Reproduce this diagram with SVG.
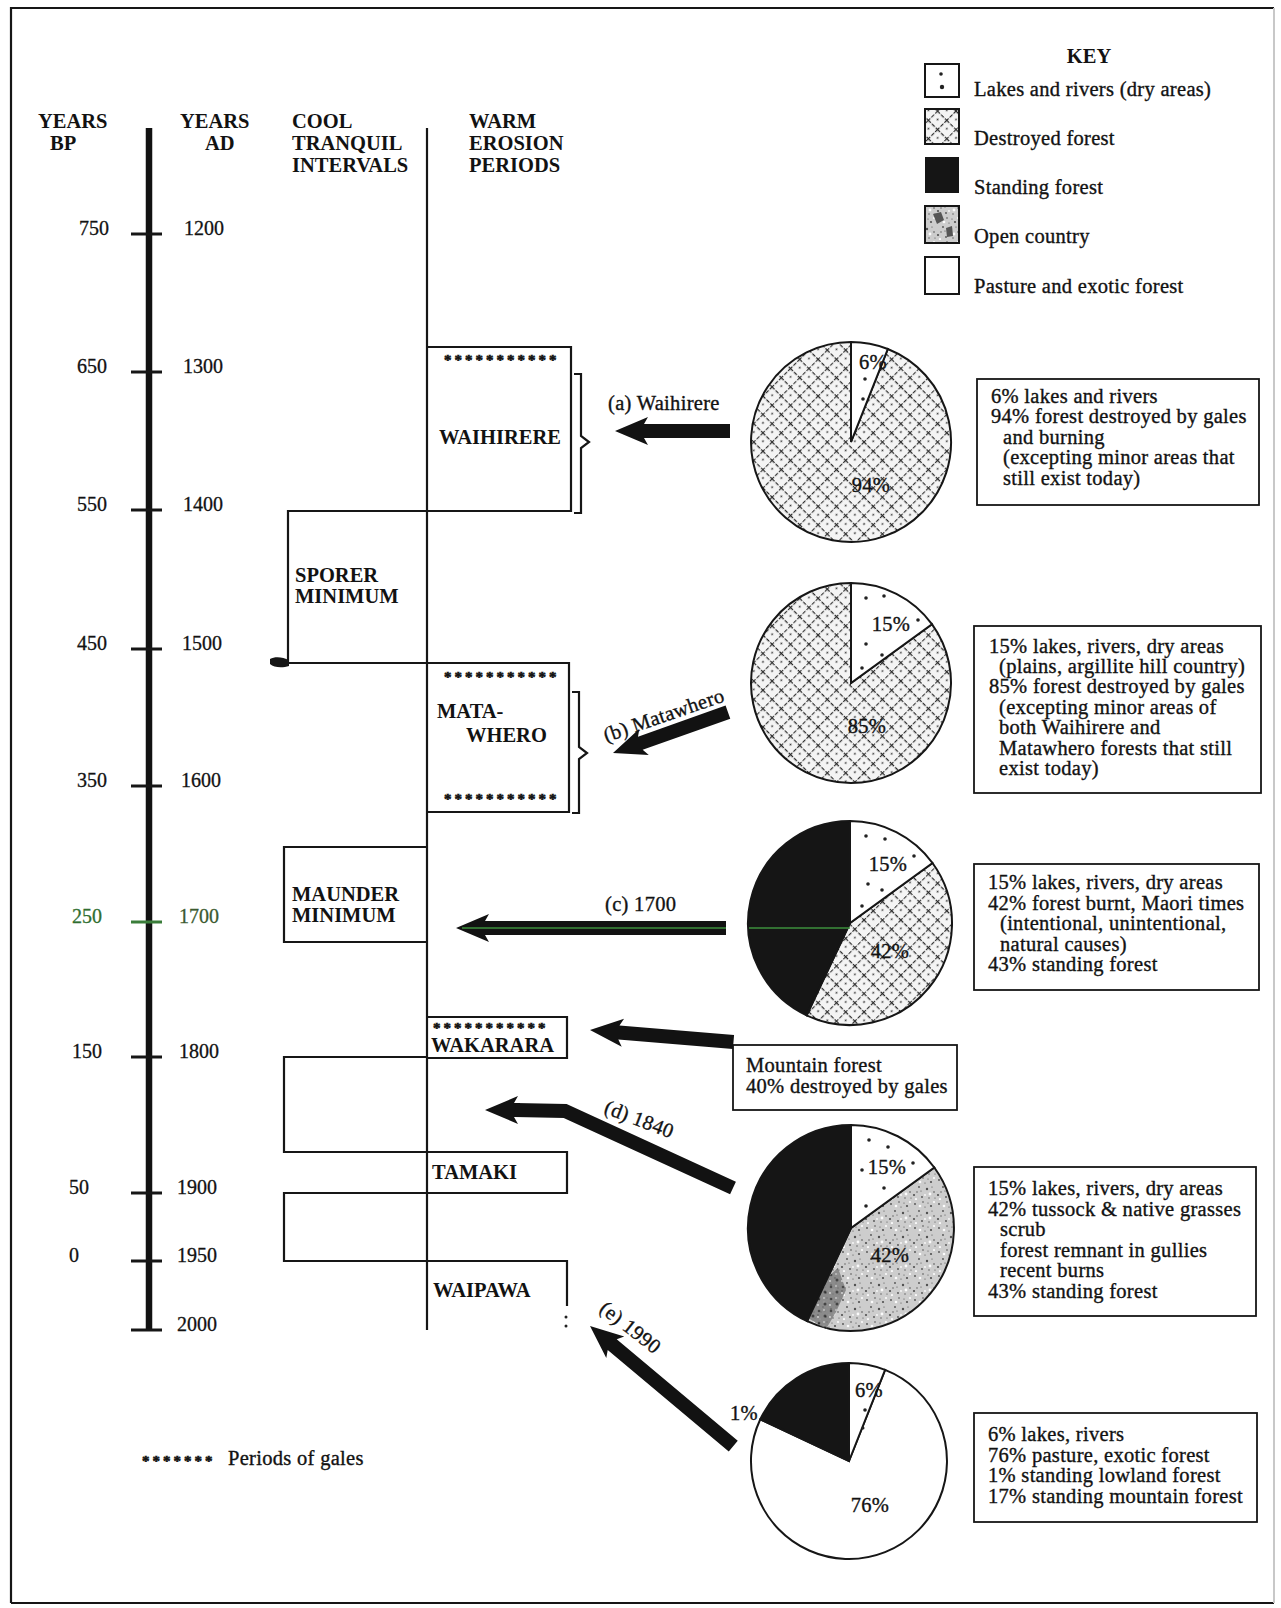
<svg xmlns="http://www.w3.org/2000/svg" width="1281" height="1608" viewBox="0 0 1281 1608">
<defs>
<style>
text { font-family: "Liberation Serif", "Times New Roman", serif; fill: #121212; }
.r { font-size: 20.5px; letter-spacing: 0.3px; stroke: #121212; stroke-width: 0.35px; }
.h { font-size: 20.5px; font-weight: bold; }
.n { font-size: 20px; stroke: #121212; stroke-width: 0.3px; }
.st { font-size: 15px; font-weight: bold; letter-spacing: 3px; stroke: #121212; stroke-width: 0.6px; }
.ln { stroke: #161616; stroke-width: 2.2; fill: none; }
.tk { stroke: #161616; stroke-width: 3; }
.pe { stroke: #161616; stroke-width: 2; }
.bx { fill: #fff; stroke: #161616; stroke-width: 1.8; }
.dot { fill: #222; }
.arr { fill: #121212; }
.blk { fill: #151515; }
.mid { text-anchor: middle; }
</style>
<pattern id="hatch" width="13" height="13" patternUnits="userSpaceOnUse" patternTransform="rotate(45)">
<rect width="13" height="13" fill="#f4f4f4"/>
<path d="M0,0.6 H13 M0.6,0 V13" stroke="#2a2a2a" stroke-width="1.1" stroke-dasharray="4 1.5"/>
<circle cx="6.5" cy="6.5" r="0.9" fill="#333"/>
</pattern>
<pattern id="open" width="24" height="24" patternUnits="userSpaceOnUse">
<rect width="24" height="24" fill="#cdcdcd"/>
<g fill="#505050">
<circle cx="3" cy="4" r="0.9"/><circle cx="11" cy="2" r="0.8"/><circle cx="19" cy="6" r="1.1"/>
<circle cx="7" cy="11" r="0.9"/><circle cx="15" cy="13" r="1.2"/><circle cx="22" cy="16" r="0.8"/>
<circle cx="2" cy="19" r="1.1"/><circle cx="10" cy="21" r="0.9"/><circle cx="17" cy="22" r="0.7"/>
<circle cx="13" cy="7" r="0.6"/><circle cx="5" cy="16" r="0.7"/><circle cx="20" cy="11" r="0.6"/>
<circle cx="9" cy="15" r="0.6"/><circle cx="23" cy="22" r="0.6"/><circle cx="16" cy="3" r="0.6"/>
</g>
<g fill="#fbfbfb">
<circle cx="8" cy="6" r="1.3"/><circle cx="18" cy="18" r="1.4"/><circle cx="4" cy="23" r="1.1"/><circle cx="22" cy="2" r="1.1"/><circle cx="13" cy="19" r="0.9"/>
</g>
</pattern>
<pattern id="opendark" width="12" height="12" patternUnits="userSpaceOnUse">
<rect width="12" height="12" fill="#7a7a7a"/>
<circle cx="3" cy="3" r="1.3" fill="#2a2a2a"/><circle cx="9" cy="8" r="1.5" fill="#222"/><circle cx="8" cy="2" r="0.8" fill="#eee"/><circle cx="2" cy="9" r="0.9" fill="#ddd"/>
</pattern>
</defs>

<rect x="0" y="0" width="1281" height="1608" fill="#fff"/>

<g id="frame">
<path d="M11,1603 V8 H1274" class="ln"/>
<path d="M11,1603 H1274" class="ln"/>
<path d="M1274,8 V1603" stroke="#c8c8c8" stroke-width="2" fill="none"/>
</g>

<g id="headers">
<text class="h" x="38" y="128">YEARS</text>
<text class="h" x="50" y="150">BP</text>
<text class="h" x="180" y="128">YEARS</text>
<text class="h" x="205" y="150">AD</text>
<text class="h" x="292" y="128">COOL</text>
<text class="h" x="292" y="150">TRANQUIL</text>
<text class="h" x="292" y="172">INTERVALS</text>
<text class="h" x="469" y="128">WARM</text>
<text class="h" x="469" y="150">EROSION</text>
<text class="h" x="469" y="172">PERIODS</text>
</g>

<g id="axis">
<line x1="149" y1="128" x2="149" y2="1330" stroke="#121212" stroke-width="6.5"/>
<line x1="131" y1="234" x2="162" y2="234" class="tk"/>
<line x1="131" y1="372" x2="162" y2="372" class="tk"/>
<line x1="131" y1="510" x2="162" y2="510" class="tk"/>
<line x1="131" y1="649" x2="162" y2="649" class="tk"/>
<line x1="131" y1="786" x2="162" y2="786" class="tk"/>
<line x1="131" y1="922" x2="162" y2="922" stroke="#3a7d3a" stroke-width="3"/>
<line x1="131" y1="1057" x2="162" y2="1057" class="tk"/>
<line x1="131" y1="1193" x2="162" y2="1193" class="tk"/>
<line x1="131" y1="1261" x2="162" y2="1261" class="tk"/>
<line x1="131" y1="1330" x2="162" y2="1330" class="tk"/>
<text class="n" x="79" y="235">750</text>
<text class="n" x="77" y="373">650</text>
<text class="n" x="77" y="511">550</text>
<text class="n" x="77" y="650">450</text>
<text class="n" x="77" y="787">350</text>
<text class="n" x="72" y="923" style="fill:#2f6e2f;stroke:#2f6e2f">250</text>
<text class="n" x="72" y="1058">150</text>
<text class="n" x="69" y="1194">50</text>
<text class="n" x="69" y="1262">0</text>
<text class="n" x="184" y="235">1200</text>
<text class="n" x="183" y="373">1300</text>
<text class="n" x="183" y="511">1400</text>
<text class="n" x="182" y="650">1500</text>
<text class="n" x="181" y="787">1600</text>
<text class="n" x="179" y="923" style="fill:#3b5a30;stroke:#3b5a30">1700</text>
<text class="n" x="179" y="1058">1800</text>
<text class="n" x="177" y="1194">1900</text>
<text class="n" x="177" y="1262">1950</text>
<text class="n" x="177" y="1331">2000</text>
</g>

<g id="divider">
<line x1="427" y1="128" x2="427" y2="1330" class="ln"/>
</g>

<g id="waihirere">
<path d="M427,347 H571 V511 H427" class="ln"/>
<text class="st" x="444" y="365">***********</text>
<text class="h mid" x="500" y="444">WAIHIRERE</text>
<path d="M574,374 H581 V436 L589,442 L581,448 V513 H574" class="ln"/>
</g>

<g id="sporer">
<path d="M427,511 H288 V663 H427" class="ln"/>
<path d="M270,659 C275,656 283,657 289,660 L289,666 C283,668 274,668 270,664 Z" fill="#161616"/>
<text class="h" x="295" y="582">SPORER</text>
<text class="h" x="295" y="603">MINIMUM</text>
</g>

<g id="matawhero">
<path d="M427,663 H569 V812 H427" class="ln"/>
<text class="st" x="444" y="682">***********</text>
<text class="st" x="444" y="804">***********</text>
<text class="h" x="437" y="718">MATA-</text>
<text class="h" x="466" y="742">WHERO</text>
<path d="M572,692 H579 V747 L587,753 L579,759 V813 H572" class="ln"/>
</g>

<g id="maunder">
<path d="M427,847 H284 V942 H427" class="ln"/>
<text class="h" x="292" y="901">MAUNDER</text>
<text class="h" x="292" y="922">MINIMUM</text>
</g>

<g id="wakarara">
<path d="M427,1017 H567 V1058 H427" class="ln"/>
<text class="st" x="433" y="1033">***********</text>
<text class="h" x="431" y="1052">WAKARARA</text>
</g>

<g id="cool-1800">
<path d="M427,1057 H284 V1152 H427" class="ln"/>
</g>

<g id="tamaki">
<path d="M427,1152 H567 V1193 H427" class="ln"/>
<text class="h" x="432" y="1179">TAMAKI</text>
</g>

<g id="cool-1900">
<path d="M427,1193 H284 V1261 H427" class="ln"/>
</g>

<g id="waipawa">
<path d="M427,1261 H567 V1306" class="ln"/>
<circle cx="566" cy="1317" r="1.5" class="dot"/>
<circle cx="566" cy="1326" r="1.5" class="dot"/>
<text class="h" x="433" y="1297">WAIPAWA</text>
</g>

<g id="connectors">
<path class="arr" transform="translate(615,431)" d="M0,0 L33,-14 L29,-7 L115,-7 L115,7 L29,7 L33,14 Z"/>
<path class="arr" transform="translate(613,753) rotate(-19.6)" d="M0,0 L33,-14 L29,-7 L122,-7 L122,7 L29,7 L33,14 Z"/>
<path class="arr" transform="translate(456,928)" d="M0,0 L33,-14 L29,-7 L270,-7 L270,7 L29,7 L33,14 Z"/>
<path class="arr" transform="translate(590,1030) rotate(4.8)" d="M0,0 L33,-14 L29,-7 L144,-7 L144,7 L29,7 L33,14 Z"/>
<path class="arr" transform="translate(485,1110)" d="M0,0 L33,-14 L29,-7 L35,-7 L35,7 L29,7 L33,14 Z"/>
<path d="M515,1110 L565,1111 L733,1188" stroke="#121212" stroke-width="14" fill="none" stroke-linejoin="miter"/>
<path class="arr" transform="translate(590,1326) rotate(40)" d="M0,0 L33,-14 L29,-7 L187,-7 L187,7 L29,7 L33,14 Z"/>
<line x1="462" y1="928" x2="726" y2="928" stroke="#3c8f3c" stroke-width="1.4"/>
<text class="r" x="608" y="410">(a) Waihirere</text>
<text class="r mid" transform="translate(664,716) rotate(-19)" x="0" y="6">(b) Matawhero</text>
<text class="r" x="605" y="911">(c) 1700</text>
<text class="r mid" transform="translate(639,1120) rotate(21)" x="0" y="6">(d) 1840</text>
<text class="r mid" transform="translate(630,1328) rotate(38)" x="0" y="6">(e) 1990</text>
</g>

<g id="pie-a">
<path d="M851,442 L887.8,349 A100,100 0 1 1 851,342 Z" fill="url(#hatch)" class="pe"/>
<path d="M851,442 L851,342 A100,100 0 0 1 887.8,349 Z" fill="#fff" class="pe"/>
<circle cx="865" cy="379" r="1.8" class="dot"/>
<circle cx="863" cy="399" r="1.8" class="dot"/>
<text class="r mid" x="873" y="369">6%</text>
<text class="r mid" x="871" y="492">94%</text>
</g>
<g id="note-a">
<rect x="977" y="379" width="282" height="126" class="bx"/>
<text class="r" x="991" y="403">6% lakes and rivers</text>
<text class="r" x="991" y="423">94% forest destroyed by gales</text>
<text class="r" x="1003" y="444">and burning</text>
<text class="r" x="1003" y="464">(excepting minor areas that</text>
<text class="r" x="1003" y="485">still exist today)</text>
</g>

<g id="pie-b">
<path d="M851,683 L931.9,624.2 A100,100 0 1 1 851,583 Z" fill="url(#hatch)" class="pe"/>
<path d="M851,683 L851,583 A100,100 0 0 1 931.9,624.2 Z" fill="#fff" class="pe"/>
<circle cx="866" cy="598" r="1.8" class="dot"/>
<circle cx="884" cy="596" r="1.8" class="dot"/>
<circle cx="918" cy="620" r="1.8" class="dot"/>
<circle cx="866" cy="644" r="1.8" class="dot"/>
<circle cx="882" cy="655" r="1.8" class="dot"/>
<circle cx="862" cy="668" r="1.8" class="dot"/>
<text class="r mid" x="891" y="631">15%</text>
<text class="r mid" x="867" y="733">85%</text>
</g>
<g id="note-b">
<rect x="974" y="626" width="287" height="167" class="bx"/>
<text class="r" x="989" y="653">15% lakes, rivers, dry areas</text>
<text class="r" x="999" y="673">(plains, argillite hill country)</text>
<text class="r" x="989" y="693">85% forest destroyed by gales</text>
<text class="r" x="999" y="714">(excepting minor areas of</text>
<text class="r" x="999" y="734">both Waihirere and</text>
<text class="r" x="999" y="755">Matawhero forests that still</text>
<text class="r" x="999" y="775">exist today)</text>
</g>

<g id="pie-c">
<path d="M850,923 L932.5,863 A102,102 0 0 1 806.6,1015.3 Z" fill="url(#hatch)" class="pe"/>
<path d="M850,923 L806.6,1015.3 A102,102 0 0 1 850,821 Z" class="blk pe"/>
<path d="M850,923 L850,821 A102,102 0 0 1 932.5,863 Z" fill="#fff" class="pe"/>
<circle cx="866" cy="836" r="1.8" class="dot"/>
<circle cx="885" cy="839" r="1.8" class="dot"/>
<circle cx="914" cy="856" r="1.8" class="dot"/>
<circle cx="868" cy="884" r="1.8" class="dot"/>
<circle cx="882" cy="890" r="1.8" class="dot"/>
<circle cx="862" cy="906" r="1.8" class="dot"/>
<line x1="749" y1="928" x2="850" y2="928" stroke="#3c8f3c" stroke-width="1.4"/>
<text class="r mid" x="888" y="871">15%</text>
<text class="r mid" x="890" y="958">42%</text>
</g>
<g id="note-c">
<rect x="974" y="864" width="285" height="126" class="bx"/>
<text class="r" x="988" y="889">15% lakes, rivers, dry areas</text>
<text class="r" x="988" y="910">42% forest burnt, Maori times</text>
<text class="r" x="1000" y="930">(intentional, unintentional,</text>
<text class="r" x="1000" y="951">natural causes)</text>
<text class="r" x="988" y="971">43% standing forest</text>
</g>

<g id="note-wakarara">
<rect x="733" y="1045" width="224" height="65" class="bx"/>
<text class="r" x="746" y="1072">Mountain forest</text>
<text class="r" x="746" y="1093">40% destroyed by gales</text>
</g>

<g id="pie-d">
<path d="M851,1228 L934.3,1167.5 A103,103 0 0 1 807.1,1321.2 Z" fill="url(#open)" class="pe"/>
<path d="M808,1318 L822,1282 L838,1268 L846,1290 L836,1312 L826,1329 Z" fill="url(#opendark)" opacity="0.8"/>
<path d="M851,1228 L807.1,1321.2 A103,103 0 0 1 851,1125 Z" class="blk pe"/>
<path d="M851,1228 L851,1125 A103,103 0 0 1 934.3,1167.5 Z" fill="#fff" class="pe"/>
<circle cx="869" cy="1140" r="1.8" class="dot"/>
<circle cx="888" cy="1147" r="1.8" class="dot"/>
<circle cx="913" cy="1163" r="1.8" class="dot"/>
<circle cx="862" cy="1170" r="1.8" class="dot"/>
<circle cx="884" cy="1188" r="1.8" class="dot"/>
<circle cx="866" cy="1206" r="1.8" class="dot"/>
<text class="r mid" x="887" y="1174">15%</text>
<text class="r mid" x="890" y="1262">42%</text>
</g>
<g id="note-d">
<rect x="974" y="1167" width="282" height="149" class="bx"/>
<text class="r" x="988" y="1195">15% lakes, rivers, dry areas</text>
<text class="r" x="988" y="1216">42% tussock &amp; native grasses</text>
<text class="r" x="1000" y="1236">scrub</text>
<text class="r" x="1000" y="1257">forest remnant in gullies</text>
<text class="r" x="1000" y="1277">recent burns</text>
<text class="r" x="988" y="1298">43% standing forest</text>
</g>

<g id="pie-e">
<path d="M849,1461 L885.1,1369.9 A98,98 0 1 1 760.3,1419.3 Z" fill="#fff" class="pe"/>
<path d="M849,1461 L760.3,1419.3 A98,98 0 0 1 849,1363 Z" class="blk pe"/>
<path d="M849,1461 L849,1363 A98,98 0 0 1 885.1,1369.9 Z" fill="#fff" class="pe"/>
<circle cx="865" cy="1410" r="1.8" class="dot"/>
<circle cx="863" cy="1428" r="1.5" class="dot"/>
<text class="r mid" x="869" y="1397">6%</text>
<text class="r mid" x="744" y="1420">1%</text>
<text class="r mid" x="870" y="1512">76%</text>
</g>
<g id="note-e">
<rect x="974" y="1413" width="283" height="109" class="bx"/>
<text class="r" x="988" y="1441">6% lakes, rivers</text>
<text class="r" x="988" y="1462">76% pasture, exotic forest</text>
<text class="r" x="988" y="1482">1% standing lowland forest</text>
<text class="r" x="988" y="1503">17% standing mountain forest</text>
</g>

<g id="key">
<text class="h mid" x="1089" y="63">KEY</text>
<rect x="925" y="64" width="34" height="33" fill="#fff" stroke="#161616" stroke-width="2"/>
<circle cx="941" cy="74" r="1.8" class="dot"/>
<circle cx="942" cy="87" r="2.2" class="dot"/>
<text class="r" x="974" y="96">Lakes and rivers (dry areas)</text>
<rect x="925" y="109" width="34" height="35" fill="url(#hatch)" stroke="#161616" stroke-width="2"/>
<text class="r" x="974" y="145">Destroyed forest</text>
<rect x="925" y="157" width="34" height="36" class="blk"/>
<text class="r" x="974" y="194">Standing forest</text>
<rect x="925" y="206" width="34" height="37" fill="url(#open)" stroke="#161616" stroke-width="2"/>
<path d="M933,214 L941,212 L944,220 L937,224 Z M946,228 L952,226 L953,236 L947,237 Z" fill="#555"/>
<text class="r" x="974" y="243">Open country</text>
<rect x="925" y="257" width="34" height="37" fill="#fff" stroke="#161616" stroke-width="2"/>
<text class="r" x="974" y="293">Pasture and exotic forest</text>
</g>

<g id="gales-legend">
<text class="st" x="142" y="1466">*******</text>
<text class="r" x="228" y="1465">Periods of gales</text>
</g>
</svg>
